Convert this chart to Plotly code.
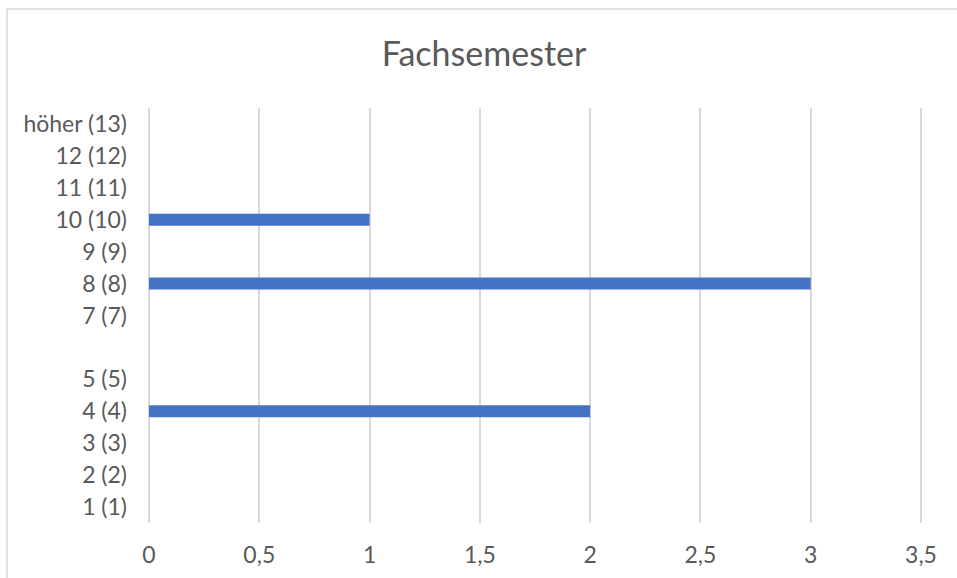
import plotly.graph_objects as go

categories = ["1 (1)", "2 (2)", "3 (3)", "4 (4)", "5 (5)", " ", "7 (7)",
              "8 (8)", "9 (9)", "10 (10)", "11 (11)", "12 (12)", "höher (13)"]
values = [0, 0, 0, 2, 0, 0, 0, 3, 0, 1, 0, 0, 0]
x_tickvals = [0, 0.5, 1, 1.5, 2, 2.5, 3, 3.5]
x_ticktext = ["0", "0,5", "1", "1,5", "2", "2,5", "3", "3,5"]

W, H = 957, 578
x_max = x_tickvals[-1]
px_per_unit = (921 - 149) / x_max
EXTRA = 3                                      # keep last gridline off the clipped edge
L, T = 149, 108
R = W - (921 + EXTRA)
B = H - 523
pw, ph = W - L - R, H - T - B

fig = go.Figure(go.Bar(
    x=values, y=categories, orientation="h",
    marker=dict(color="#4472C4", line=dict(width=0)),
    hoverinfo="x+y",
))

border = dict(color="#D9D9D9", width=1.5)
bx0, by1 = (7 - L) / pw, (H - B - 9) / ph
bx1, by0 = (W + 40 - L) / pw, -(B + 40) / ph

fig.update_layout(
    width=W, height=H,
    margin=dict(l=L, r=R, t=T, b=B, autoexpand=False),
    paper_bgcolor="white", plot_bgcolor="white",
    font=dict(family="Lato", color="#595959", size=23),
    bargap=0.625,
    showlegend=False,
    title=dict(text="Fachsemester", x=484 / W, xref="container", xanchor="center",
               y=1 - 54 / H, yref="container", yanchor="middle",
               font=dict(family="Lato", size=34, color="#595959")),
    xaxis=dict(range=[0, x_max + EXTRA / px_per_unit], tickvals=x_tickvals, ticktext=x_ticktext,
               showgrid=True, gridcolor="#D9D9D9", gridwidth=2,
               zeroline=True, zerolinecolor="#D9D9D9", zerolinewidth=2,
               showline=False, ticks="", ticklabelstandoff=16,
               fixedrange=True),
    yaxis=dict(type="category", categoryorder="array", categoryarray=categories,
               showgrid=False, zeroline=False, showline=False, ticks="",
               ticklabelstandoff=21, fixedrange=True),
    shapes=[
        dict(type="line", xref="paper", yref="paper", x0=bx0, x1=bx1, y0=by1, y1=by1,
             line=border, layer="below"),
        dict(type="line", xref="paper", yref="paper", x0=bx0, x1=bx0, y0=by0, y1=by1,
             line=border, layer="below"),
    ],
)

fig.write_html("out.html",
               config={"displayModeBar": False},
               post_script="document.body.style.margin='0';"
                           "document.body.style.overflow='hidden';")
